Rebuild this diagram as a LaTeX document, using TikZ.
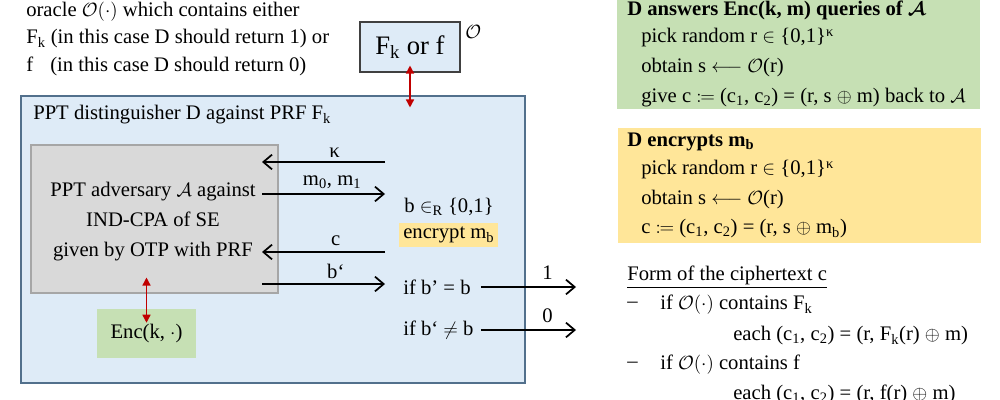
\documentclass[tikz,border=0pt]{standalone}
\usepackage{amsmath,mathtools}
\usepackage{fontspec}
\setmainfont{Liberation Serif}
\usetikzlibrary{arrows.meta}
\definecolor{lblue}{HTML}{DEEBF7}
\definecolor{bluebd}{HTML}{52708C}
\definecolor{gfill}{HTML}{D9D9D9}
\definecolor{gbd}{HTML}{A6A6A6}
\definecolor{lgreen}{HTML}{C6E0B4}
\definecolor{lyellow}{HTML}{FFE699}
\definecolor{redc}{HTML}{C00000}
\begin{document}
\begin{tikzpicture}[x=0.75pt,y=-0.75pt,
  font=\fontsize{15.5}{18}\selectfont,
  txt/.style={anchor=west, inner sep=0pt},
  arr/.style={-{Straight Barb[length=6.5pt,width=11pt,line width=1.3pt]}, line width=1.3pt},
  redarr/.style={{Triangle[length=6pt,width=6pt]}-{Triangle[length=6pt,width=6pt]}, line width=1.1pt, draw=redc},
  obox/.style={draw=black!75, fill=lblue, line width=0.8pt, inner sep=0pt},
  bigbox/.style={draw=bluebd, fill=lblue, line width=0.8pt, inner sep=0pt},
  advbox/.style={draw=gbd, fill=gfill, line width=0.8pt, inner sep=0pt},
  encbox/.style={fill=lgreen, inner sep=0pt},
  lbl/.style={inner sep=0pt},
]
\useasboundingbox (0,0) rectangle (1000,400);

% top-left description
\node[txt] (l1) at (26,12) {oracle $\mathcal{O}(\cdot)$ which contains either};
\node[txt] (l2) at (26,39) {F\textsubscript{k} (in this case D should return 1) or};
\node[txt] (l3) at (26,66) {\makebox[18pt][l]{f}(in this case D should return 0)};

% oracle box
\node[obox, minimum width=75pt, minimum height=37.5pt] (orc) at (410,47)
  {\fontsize{20}{21}\selectfont F\textsubscript{k} or f};
\node[txt] (osym) at (465,32) {$\mathcal{O}$};

% distinguisher box
\node[bigbox, minimum width=378pt, minimum height=215.25pt] (D) at (273,239.5) {};
\node[txt] (Dt) at (33,115) {PPT distinguisher D against PRF F\textsubscript{k}};

\draw[redarr] ([yshift=5.25pt]orc.south) -- ([yshift=-9pt]orc.south |- D.north);

% adversary box
\node[advbox, minimum width=185.25pt, minimum height=111pt] (A) at (154.5,219) {};
\node[lbl, align=center, font=\fontsize{15.5}{22.5}\selectfont] (At) at (153,222)
  {PPT adversary $\mathcal{A}$ against\\IND-CPA of SE\\given by OTP with PRF};

% Enc oracle
\node[encbox, minimum width=74.25pt, minimum height=36.75pt] (enc) at (146.5,333.5) {Enc(k, $\cdot$)};
\draw[redarr] ([yshift=12pt]enc.north |- A.south) -- ([yshift=-10.5pt]enc.north);

% right-hand side of D
\node[txt] (bR) at (404,207) {b $\in$\textsubscript{R} \{0,1\}};
\node[anchor=west, fill=lyellow, inner xsep=3pt, inner ysep=3pt] (encm) at (399,235) {encrypt m\textsubscript{b}};
\node[txt] (ifeq) at (403,287) {if b' = b};
\node[txt] (ifne) at (403,330) {if b‘ $\neq$ b};

% messages
\coordinate (kR) at (385,162);  \coordinate (kL) at (262,162);
\coordinate (mL) at (262,194);  \coordinate (mR) at (385,194);
\coordinate (cR) at (385,252);  \coordinate (cL) at (262,252);
\coordinate (bL) at (262,284);  \coordinate (bRt) at (385,284);
\coordinate (o1) at (576,287);  \coordinate (o0) at (576,330);

\draw[arr] (kR) -- node[lbl, pos=0.41, above=3pt] (klbl) {κ} (kL);
\draw[arr] (mL) -- node[lbl, pos=0.57, above=3pt] (mlbl) {m\textsubscript{0}, m\textsubscript{1}} (mR);
\draw[arr] (cR) -- node[lbl, pos=0.4, above=4pt] (clbl) {c} (cL);
\draw[arr] (bL) -- node[lbl, pos=0.6, above=3pt] (blbl) {b‘} (bRt);
\draw[arr] ([xshift=7.5pt]ifeq.east) -- node[lbl, pos=0.7, above=5pt] (one) {1} (o1);
\draw[arr] ([xshift=7.5pt]ifne.east -| ifeq.east) -- node[lbl, pos=0.7, above=5pt] (zero) {0} (o0);

% green panel
\node[encbox, minimum width=272.25pt, minimum height=85.5pt] (gp) at (798.5,52) {};
\node[txt] (g0) at (627,10) {\textbf{D answers Enc(k, m) queries of $\boldsymbol{\mathcal{A}}$}};
\node[txt] (g1) at (641,38) {pick random r $\in$ \{0,1\}\textsuperscript{κ}};
\node[txt] (g2) at (641,68) {obtain s $\longleftarrow$ $\mathcal{O}$(r)};
\node[txt] (g3) at (641,98) {give c $\coloneqq$ (c\textsubscript{1}, c\textsubscript{2}) = (r, s $\oplus$ m) back to $\mathcal{A}$};

% yellow panel
\node[fill=lyellow, inner sep=0pt, minimum width=272.25pt, minimum height=86.25pt] (yp) at (799.5,185.5) {};
\node[txt] (y0) at (627,142) {\textbf{D encrypts m\textsubscript{b}}};
\node[txt] (y1) at (641,170) {pick random r $\in$ \{0,1\}\textsuperscript{κ}};
\node[txt] (y2) at (641,200) {obtain s $\longleftarrow$ $\mathcal{O}$(r)};
\node[txt] (y3) at (641,229) {c $\coloneqq$ (c\textsubscript{1}, c\textsubscript{2}) = (r, s $\oplus$ m\textsubscript{b})};

% form of the ciphertext
\node[txt] (f0) at (627,277) {\underline{Form of the ciphertext c}};
\node[txt] (f1d) at (627,305) {--};
\node[txt] (f1) at (660,305) {if $\mathcal{O}(\cdot)$ contains F\textsubscript{k}};
\node[txt] (f2) at (733,336) {each (c\textsubscript{1}, c\textsubscript{2}) = (r, F\textsubscript{k}(r) $\oplus$ m)};
\node[txt] (f3d) at (627,365) {--};
\node[txt] (f3) at (660,365) {if $\mathcal{O}(\cdot)$ contains f};
\node[txt] (f4) at (733,394) {each (c\textsubscript{1}, c\textsubscript{2}) = (r, f(r) $\oplus$ m)};
\end{tikzpicture}
\end{document}
